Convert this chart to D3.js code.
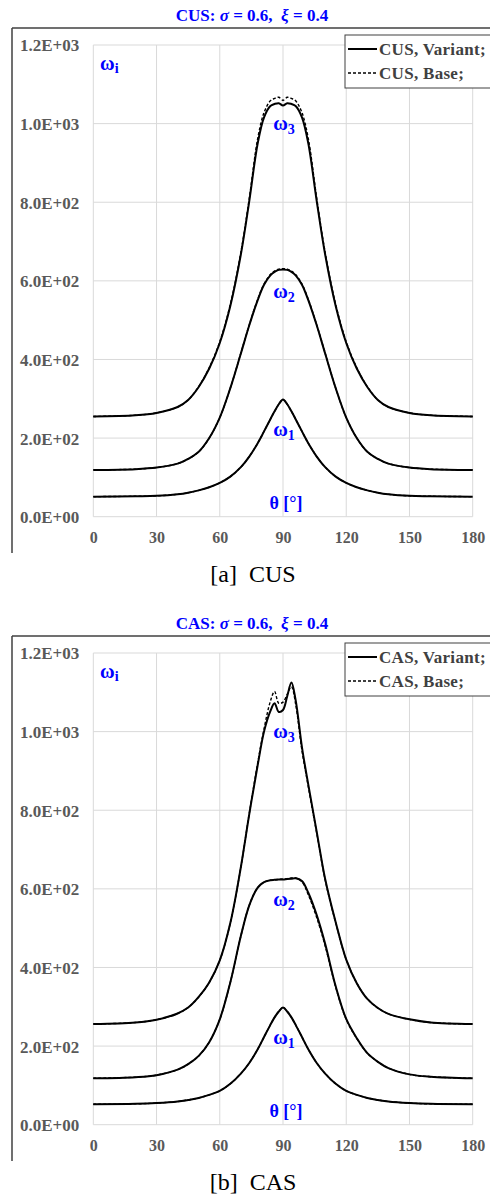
<!DOCTYPE html>
<html><head><meta charset="utf-8">
<script src="https://cdn.jsdelivr.net/npm/d3@7"></script>
<style>
body{margin:0;background:#fff}
svg text{font-family:"Liberation Serif","Times New Roman",serif}
</style>
</head><body>
<svg id="chart" width="490" height="1198"></svg>
<script>
// ---------- data ----------
const theta = [0,20,30,40,45,50,55,60,65,70,74,78,81,84,86,88,90,92,94,96,99,102,106,110,115,120,125,130,135,140,150,160,180];
const xTicks = [0,30,60,90,120,150,180];
const yTicks = [0,200,400,600,800,1000,1200];
const yTickLabels = ["0.0E+00","2.0E+02","4.0E+02","6.0E+02","8.0E+02","1.0E+03","1.2E+03"];

// CUS panel
const cusW1Variant = [51,52,53,57,61,67,75,86,102,126,153,187,217,248,268,286,298,286,268,248,217,187,153,126,102,86,75,67,61,57,53,52,51];
const cusW1Base    = [51,52,53,57,61,67,75,86,102,126,153,187,217,248,268,286,298,286,268,248,217,187,153,126,102,86,75,67,61,57,53,52,51];
const cusW2Variant = [119,121,125,135,147,165,200,252,327,415,487,551,590,614,623,628,629,628,623,614,590,551,487,415,327,252,200,165,147,135,125,121,119];
const cusW2Base    = [119,121,125,135,147,165,200,252,327,416,488,553,592,616,625,630,631,630,625,616,592,553,488,416,327,252,200,165,147,135,125,121,119];
const cusW3Variant = [255,258,264,279,297,330,377,442,536,667,803,950,1016,1045,1050,1052,1046,1052,1050,1045,1016,950,803,667,536,442,377,330,297,279,264,258,255];
const cusW3Base    = [255,258,264,279,297,331,379,445,540,672,810,962,1028,1058,1064,1067,1059,1067,1064,1058,1028,962,810,672,540,445,379,331,297,279,264,258,255];

// CAS panel
const casW1Variant = [52,53,55,59,63,68,76,86,104,130,157,192,223,254,273,288,298,288,273,254,223,192,157,130,104,86,76,68,63,59,55,53,52];
const casW1Base    = [52,53,55,59,63,68,76,86,104,130,157,192,223,254,273,288,298,288,273,254,223,192,157,130,104,86,76,68,63,59,55,53,52];
const casW2Variant = [118,121,126,140,154,175,210,268,362,480,558,603,617,622,623,624,624,625,626,627,620,590,533,460,352,269,220,182,160,144,128,122,118];
const casW2Base    = [118,121,126,140,154,175,210,268,362,480,558,603,617,622,623,624,625,626,628,628,618,585,527,455,350,268,219,182,160,144,128,122,118];
const casW3Variant = [256,260,267,283,298,325,362,418,513,655,790,915,1000,1052,1072,1050,1055,1090,1125,1080,960,865,745,625,515,420,360,320,297,282,268,260,256];
const casW3Base    = [256,260,267,283,298,325,362,418,513,655,792,920,1007,1077,1102,1072,1075,1095,1114,1070,952,860,742,623,514,420,360,320,297,282,268,260,256];

const panels = [
  {name:"CUS", caption:"[a]  CUS", legend:["CUS, Variant;","CUS, Base;"],
   variant:[cusW1Variant,cusW2Variant,cusW3Variant], base:[cusW1Base,cusW2Base,cusW3Base]},
  {name:"CAS", caption:"[b]  CAS", legend:["CAS, Variant;","CAS, Base;"],
   variant:[casW1Variant,casW2Variant,casW3Variant], base:[casW1Base,casW2Base,casW3Base]}
];

// ---------- drawing ----------
const svg = d3.select("#chart");
const blue = "#0000ff", grey = "#595959";
const x = d3.scaleLinear().domain([0,180]).range([93.3,472.7]);
const y = d3.scaleLinear().domain([0,1200]).range([516.7,45]);
const line = d3.line().x((d,i)=>x(theta[i])).y(d=>y(d)).curve(d3.curveCatmullRom.alpha(0.5));

panels.forEach((p,pi)=>{
  const g = svg.append("g").attr("transform",`translate(0,${pi*608})`);

  // title
  const t = g.append("text").attr("x",252).attr("y",21).attr("text-anchor","middle")
    .attr("fill",blue).attr("font-weight","bold").attr("font-size",17).attr("xml:space","preserve");
  t.append("tspan").text(p.name+": ");
  t.append("tspan").attr("font-style","italic").text("σ");
  t.append("tspan").text(" = 0.6,  ");
  t.append("tspan").attr("font-style","italic").text("ξ");
  t.append("tspan").text(" = 0.4");

  // frame
  g.append("line").attr("x1",12).attr("x2",490).attr("y1",28).attr("y2",28).attr("stroke","#404040").attr("stroke-width",1.5);
  g.append("line").attr("x1",12).attr("x2",12).attr("y1",28).attr("y2",553).attr("stroke","#404040").attr("stroke-width",1.5);

  // grid
  g.append("g").selectAll("line").data(xTicks).join("line")
    .attr("x1",d=>x(d)).attr("x2",d=>x(d)).attr("y1",y(0)).attr("y2",y(1200))
    .attr("stroke","#d9d9d9").attr("stroke-width",1);
  g.append("g").selectAll("line").data(yTicks).join("line")
    .attr("x1",x(0)).attr("x2",x(180)).attr("y1",d=>y(d)).attr("y2",d=>y(d))
    .attr("stroke","#d9d9d9").attr("stroke-width",1);

  // axes labels via d3 axes
  const ya = d3.axisLeft(y).tickValues(yTicks).tickFormat((d,i)=>yTickLabels[i]).tickSize(0).tickPadding(14);
  const yg = g.append("g").attr("transform",`translate(${x(0)},0)`).call(ya);
  yg.select(".domain").remove();
  yg.selectAll("text").attr("fill",grey).attr("font-weight","bold").attr("font-size",17)
    .attr("font-family","Liberation Serif").attr("dy","0.35em");
  const xa = d3.axisBottom(x).tickValues(xTicks).tickSize(0).tickPadding(15);
  const xg = g.append("g").attr("transform",`translate(0,${y(0)})`).call(xa);
  xg.select(".domain").remove();
  xg.selectAll("text").attr("fill",grey).attr("font-weight","bold").attr("font-size",16)
    .attr("font-family","Liberation Serif");

  // curves: base (dashed) first, variant (solid) on top
  p.base.forEach(s=>{
    g.append("path").attr("d",line(s)).attr("fill","none").attr("stroke","#000")
      .attr("stroke-width",1.4).attr("stroke-dasharray","3,2");
  });
  p.variant.forEach(s=>{
    g.append("path").attr("d",line(s)).attr("fill","none").attr("stroke","#000")
      .attr("stroke-width",2);
  });

  // in-plot labels
  function omega(xp, yp, sub){
    const tt = g.append("text").attr("x",xp).attr("y",yp).attr("text-anchor","middle")
      .attr("fill",blue).attr("font-weight","bold");
    tt.append("tspan").attr("font-size",20).text("ω");
    tt.append("tspan").attr("font-size",14).attr("dy",4).text(sub);
  }
  omega(x(90)+1, 130, "3");
  omega(x(90)+1, 298, "2");
  omega(x(90)+1, 436, "1");
  const wi = g.append("text").attr("x",100).attr("y",70).attr("fill",blue).attr("font-weight","bold");
  wi.append("tspan").attr("font-size",20).text("ω");
  wi.append("tspan").attr("font-size",14).attr("dy",3).text("i");
  g.append("text").attr("x",x(90)+3).attr("y",509).attr("text-anchor","middle").attr("fill",blue)
    .attr("font-weight","bold").attr("font-size",18).text("θ [°]");

  // legend
  const lg = g.append("g");
  lg.append("rect").attr("x",345).attr("y",35).attr("width",160).attr("height",53)
    .attr("fill","#fff").attr("stroke","#404040").attr("stroke-width",1);
  [0,1].forEach(i=>{
    const yy = 49 + i*24;
    lg.append("line").attr("x1",348).attr("x2",377).attr("y1",yy).attr("y2",yy)
      .attr("stroke","#000").attr("stroke-width",i===0?2:1.4).attr("stroke-dasharray",i===0?null:"3,2");
    lg.append("text").attr("x",379).attr("y",yy+6).attr("fill","#404040").attr("font-weight","bold")
      .attr("font-size",17).attr("letter-spacing",0.3).text(p.legend[i]);
  });

  // caption
  g.append("text").attr("x",253).attr("y",582).attr("text-anchor","middle").attr("fill","#000")
    .attr("font-size",24).attr("xml:space","preserve").text(p.caption);
});
</script>
</body></html>
